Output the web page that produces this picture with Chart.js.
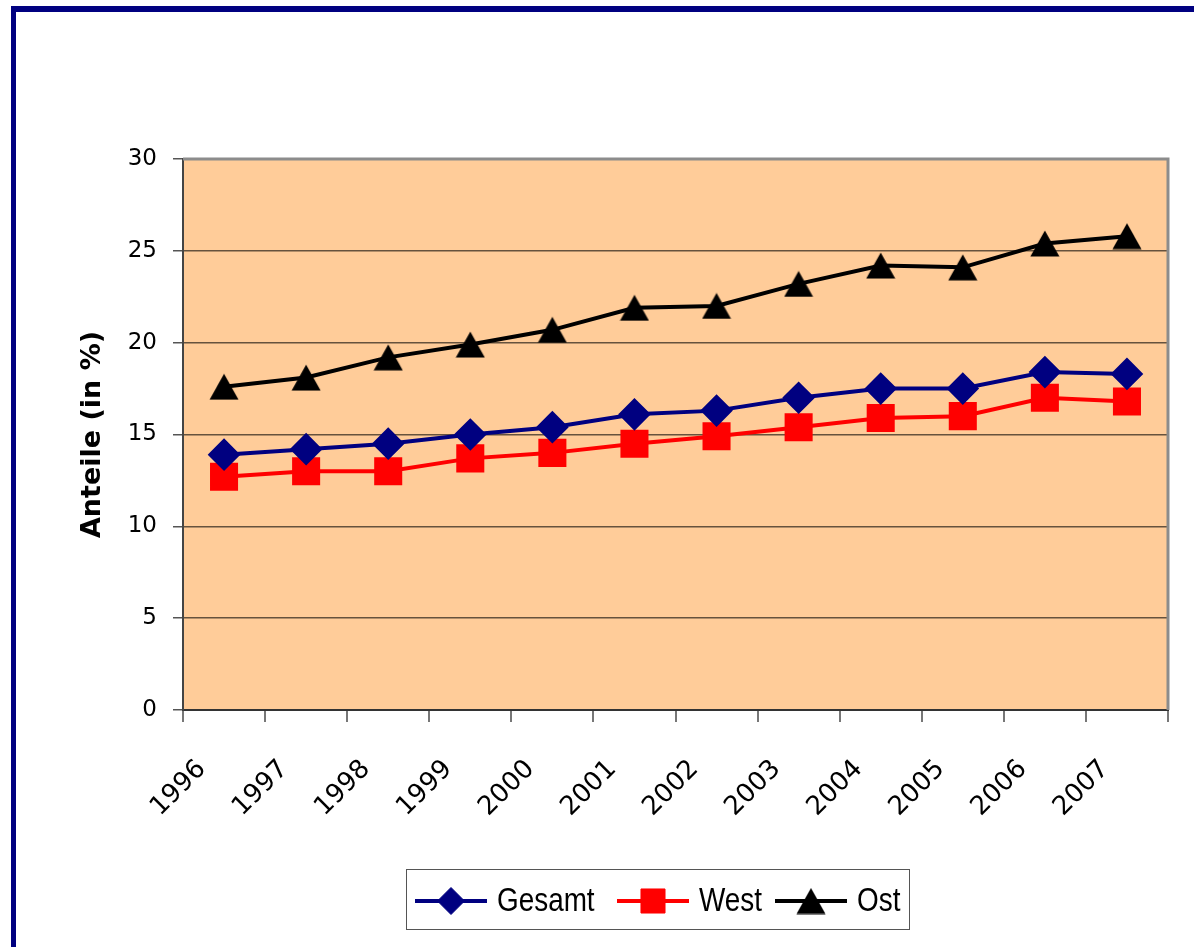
<!DOCTYPE html>
<html>
<head>
<meta charset="utf-8">
<script src="https://cdn.jsdelivr.net/npm/chart.js@4.4.1/dist/chart.umd.min.js"></script>
<style>
html, body { margin: 0; padding: 0; background: #fff; }
#rahmen { position: absolute; left: 11px; top: 6px; width: 1200px; height: 960px;
  border-left: 5px solid #000080; border-top: 6px solid #000080; }
#diagramm { position: absolute; left: 0; top: 0; }
</style>
</head>
<body>
<div id="rahmen"></div>
<canvas id="diagramm" width="1194" height="947"></canvas>
<script>
// Werte
var jahre = ['1996', '1997', '1998', '1999', '2000', '2001', '2002', '2003', '2004', '2005', '2006', '2007'];
var gesamt = [13.9, 14.2, 14.5, 15.0, 15.4, 16.1, 16.3, 17.0, 17.5, 17.5, 18.4, 18.3];
var west = [12.7, 13.0, 13.0, 13.7, 14.0, 14.5, 14.9, 15.4, 15.9, 16.0, 17.0, 16.8];
var ost = [17.6, 18.1, 19.2, 19.9, 20.7, 21.9, 22.0, 23.2, 24.2, 24.1, 25.4, 25.8];
var yMin = 0, yMax = 30, yStep = 5;

// Dreieck wie in Excel: mittig auf dem Punkt (nicht Umkreismittelpunkt)
var dreieck = document.createElement('canvas');
dreieck.width = 30;
dreieck.height = 27;
(function () {
    var c = dreieck.getContext('2d');
    c.fillStyle = '#000';
    c.beginPath();
    c.moveTo(15, 0.5);
    c.lineTo(29.5, 26.5);
    c.lineTo(0.5, 26.5);
    c.closePath();
    c.fill();
})();

// Hintergrund der Zeichenflaeche
var hintergrund = {
    id: 'hintergrund',
    beforeDraw: function (chart) {
        var a = chart.chartArea, ctx = chart.ctx;
        ctx.save();
        ctx.fillStyle = '#FFCC99';
        ctx.fillRect(a.left, a.top, a.right - a.left, a.bottom - a.top);
        ctx.restore();
    },
    beforeDatasetsDraw: function (chart) {
        var a = chart.chartArea, ctx = chart.ctx;
        ctx.save();
        ctx.strokeStyle = '#8c8c8c';
        ctx.lineWidth = 3;
        ctx.beginPath();
        ctx.moveTo(a.left, a.top);
        ctx.lineTo(a.right, a.top);
        ctx.lineTo(a.right, a.bottom);
        ctx.stroke();
        ctx.restore();
    }
};

// Legende mit Linie + Marker, wie im Original
var legende = {
    id: 'legende',
    afterDraw: function (chart) {
        var ctx = chart.ctx;
        var starts = [415, 617, 775];
        var y = 901;
        ctx.save();
        ctx.strokeStyle = '#555';
        ctx.lineWidth = 1;
        ctx.strokeRect(406.5, 869.5, 503, 60);
        ctx.font = '34px "Liberation Sans", Arial, sans-serif';
        ctx.textBaseline = 'middle';
        chart.data.datasets.forEach(function (ds, i) {
            var x = starts[i];
            ctx.strokeStyle = ds.borderColor;
            ctx.lineWidth = 4;
            ctx.beginPath();
            ctx.moveTo(x, y);
            ctx.lineTo(x + 72, y);
            ctx.stroke();
            ctx.fillStyle = ds.pointBackgroundColor;
            ctx.strokeStyle = ds.pointBorderColor;
            ctx.lineWidth = 1;
            Chart.helpers.drawPoint(ctx, {pointStyle: ds.pointStyle, radius: ds.pointRadius, rotation: 0, borderWidth: 1}, x + 36, y);
            ctx.save();
            ctx.translate(x + 82, y + 1);
            ctx.scale(0.82, 1);
            ctx.fillStyle = '#000';
            ctx.fillText(ds.label, 0, 0);
            ctx.restore();
        });
        ctx.restore();
    }
};

new Chart(document.getElementById('diagramm'), {
    type: 'line',
    data: {
        labels: jahre,
        datasets: [{
            label: 'Gesamt',
            data: gesamt,
            borderColor: '#000080',
            backgroundColor: '#000080',
            pointBackgroundColor: '#000080',
            pointBorderColor: '#000080',
            pointStyle: 'rectRot',
            pointRadius: 13.5,
            borderWidth: 4
        }, {
            label: 'West',
            data: west,
            borderColor: '#FF0000',
            backgroundColor: '#FF0000',
            pointBackgroundColor: '#FF0000',
            pointBorderColor: '#FF0000',
            pointStyle: 'rect',
            pointRadius: 17,
            borderWidth: 4
        }, {
            label: 'Ost',
            data: ost,
            borderColor: '#000000',
            backgroundColor: '#000000',
            pointBackgroundColor: '#000000',
            pointBorderColor: '#000000',
            pointStyle: dreieck,
            pointRadius: 15,
            borderWidth: 4
        }]
    },
    options: {
        responsive: false,
        animation: false,
        layout: { padding: { left: 0, top: 159, right: 26, bottom: 0 } },
        plugins: {
            legend: { display: false },
            tooltip: { enabled: false }
        },
        elements: { line: { tension: 0 }, point: { borderWidth: 1 } },
        scales: {
            x: {
                offset: true,
                grid: { offset: true, drawOnChartArea: false, drawTicks: true, tickLength: 12, color: '#777', lineWidth: 2 },
                border: { display: true, color: '#333', width: 2 },
                ticks: {
                    autoSkip: false, minRotation: 45, maxRotation: 45, labelOffset: -22, padding: 32,
                    color: '#000', font: { family: 'DejaVu Sans', size: 26 }
                },
                afterFit: function (s) { s.height = 237; }
            },
            y: {
                min: yMin, max: yMax,
                ticks: { stepSize: yStep, padding: 16, color: '#000', font: { family: 'DejaVu Sans', size: 23 } },
                grid: { color: 'rgba(0,0,0,0.6)', lineWidth: 1.5, tickLength: 10, tickColor: '#555' },
                border: { display: true, color: '#444', width: 2 },
                title: {
                    display: true, text: 'Anteile (in %)', color: '#000',
                    font: { family: 'DejaVu Sans', size: 27, weight: 'bold' },
                    padding: { top: 77, bottom: 0 }
                },
                afterFit: function (s) { s.width = 183; }
            }
        }
    },
    plugins: [hintergrund, legende]
});
</script>
</body>
</html>
